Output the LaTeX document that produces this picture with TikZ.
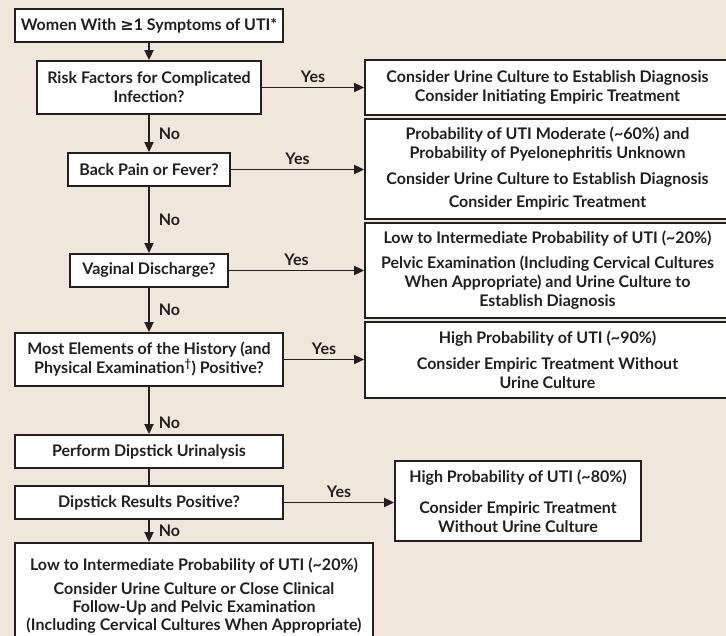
\documentclass[tikz,border=0pt]{standalone}
\usepackage{fontspec}
\setmainfont{Lato}
\newfontfamily\symfont{DejaVu Sans}
\usetikzlibrary{arrows.meta,positioning}
\definecolor{pagebg}{RGB}{239,230,220}
\definecolor{inkline}{RGB}{35,31,32}
\newcommand{\paragap}{\\[7pt]}

\begin{document}
\begin{tikzpicture}[
    x=1pt, y=-1pt,
    font=\bfseries\fontsize{16}{19}\selectfont,
    flowbox/.style={
        draw=inkline,
        fill=white,
        line width=1.8pt,
        align=center,
        inner sep=3pt,
        text=inkline
    },
    leftbox/.style={flowbox, minimum width=268pt, minimum height=33pt},
    outcomebox/.style={flowbox, minimum width=365pt},
    arrow/.style={-{Triangle[length=10pt,width=9pt]}, line width=1.8pt, draw=inkline},
    link/.style={line width=1.8pt, draw=inkline},
    yeslabel/.style={above, inner sep=4pt, text=inkline},
    nolabel/.style={right, inner sep=9pt, text=inkline}
]
\fill[pagebg] (0,0) rectangle (726,636);
\useasboundingbox (0,0) rectangle (726,636);

% left column
\node[leftbox] (start) at (149,25.5) {Women With {\symfont≥}1 Symptoms of UTI*};
\node[flowbox, minimum width=224pt, minimum height=53pt] (risk) at (149,87.5) {Risk Factors for Complicated\\Infection?};
\node[flowbox, minimum width=162pt, minimum height=33pt] (back) at (149,169.5) {Back Pain or Fever?};
\node[flowbox, minimum width=158pt, minimum height=33pt] (vaginal) at (149,270.5) {Vaginal Discharge?};
\node[leftbox, minimum height=53pt] (history) at (149,359.5) {Most Elements of the History (and\\Physical Examination\textsuperscript{†}) Positive?};
\node[leftbox] (dipstick) at (149,451.5) {Perform Dipstick Urinalysis};
\node[leftbox] (dipresult) at (149,502.5) {Dipstick Results Positive?};
\node[flowbox, minimum width=358pt, minimum height=97pt] (lowfinal) at (194,591.5) {};
\node[text=inkline, align=center, font=\bfseries\fontsize{16}{18}\selectfont,
      below=12pt of lowfinal.north] (lowtext)
    {Low to Intermediate Probability of UTI (\textasciitilde20\%)\\[6pt]
     Consider Urine Culture or Close Clinical\\Follow-Up and Pelvic Examination\\(Including Cervical Cultures When Appropriate)};

% right column
\node[outcomebox, minimum height=55pt] (culture) at (547.5,87.5)
    {Consider Urine Culture to Establish Diagnosis\\Consider Initiating Empiric Treatment};
\node[outcomebox, minimum height=100pt] (moderate) at (547.5,169)
    {Probability of UTI Moderate (\textasciitilde60\%) and\\Probability of Pyelonephritis Unknown\paragap
     Consider Urine Culture to Establish Diagnosis\\[4pt]
     Consider Empiric Treatment};
\node[outcomebox, minimum height=95pt] (pelvic) at (547.5,270.5)
    {Low to Intermediate Probability of UTI (\textasciitilde20\%)\\[6pt]
     Pelvic Examination (Including Cervical Cultures\\When Appropriate) and Urine Culture to\\Establish Diagnosis};
\node[outcomebox, minimum height=76pt] (high) at (547.5,360)
    {High Probability of UTI (\textasciitilde90\%)\paragap
     Consider Empiric Treatment Without\\Urine Culture};
\node[flowbox, minimum width=246pt, minimum height=80pt] (highdip) at (518,501)
    {High Probability of UTI (\textasciitilde80\%)\\[12pt]
     Consider Empiric Treatment\\Without Urine Culture};

% connectors
\draw[arrow] (start) -- (risk);
\draw[arrow] (risk.east) -- node[yeslabel] {Yes} (risk.east -| culture.west);
\draw[arrow] (risk) -- node[nolabel] {No} (back);
\draw[arrow] (back.east) -- node[yeslabel] {Yes} (back.east -| moderate.west);
\draw[arrow] (back) -- node[nolabel] {No} (vaginal);
\draw[arrow] (vaginal.east) -- node[yeslabel] {Yes} (vaginal.east -| pelvic.west);
\draw[arrow] (vaginal) -- node[nolabel] {No} (history);
\draw[arrow] (history.east) -- node[yeslabel] {Yes} (history.east -| high.west);
\draw[arrow] (history) -- node[nolabel, pos=0.75] {No} (dipstick);
\draw[link] (dipstick) -- (dipresult);
\draw[arrow] (dipresult.east) -- node[yeslabel] {Yes} (dipresult.east -| highdip.west);
\draw[arrow] (dipresult.south) -- node[nolabel] {No} (dipresult.south |- lowfinal.north);
\end{tikzpicture}
\end{document}
